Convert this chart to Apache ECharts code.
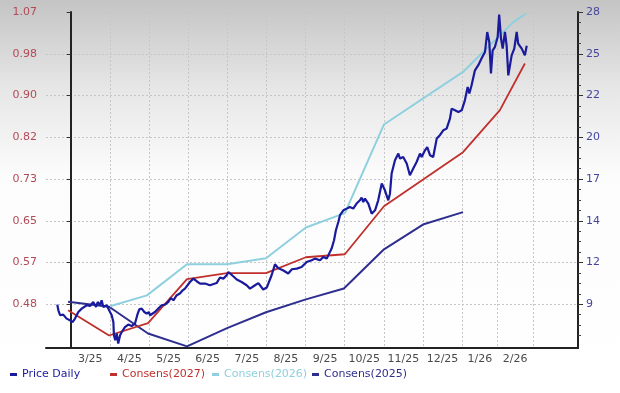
<!DOCTYPE html>
<html>
<head>
<meta charset="utf-8">
<script src="https://cdn.jsdelivr.net/npm/echarts@6/dist/echarts.min.js"></script>
<style>
html,body{margin:0;padding:0;}
#chart{width:620px;height:393px;background:linear-gradient(to bottom,#c4c4c4 0%,#e6e6e6 22%,#fcfcfc 45%,#ffffff 100%);}
</style>
</head>
<body>
<div id="chart"></div>
<script>
// x unit: approx. trading-day index, 0 = start of March 2025
const monthStarts = [0, 21, 42, 63, 84, 105, 126, 147, 168, 189, 210, 229, 248];
const monthLabels = ['3/25','4/25','5/25','6/25','7/25','8/25','9/25','10/25','11/25','12/25','1/26','2/26'];

const leftTickLabels = ['0.48','0.57','0.65','0.73','0.82','0.90','0.98','1.07'];
const leftTickRange = [0.48, 1.07];
const rightTickLabels = ['9','12','14','17','20','22','25','28'];
const rightTickRange = [9, 28];

const priceDaily = [
[-7.2,8.98],[-6.6,8.61],[-5.7,8.29],[-4.0,8.33],[-2.2,8.07],[-0.4,7.96],[1.1,7.85],[2.3,8.07],[4.1,8.50],[5.9,8.72],
[6.8,8.65],[8.6,8.94],[10.4,8.89],[12.1,9.15],[13.6,8.83],[14.5,9.15],[15.7,8.94],[16.6,9.26],[17.5,8.83],[19.3,8.94],
[21.1,8.50],[22.0,8.29],[22.9,7.85],[23.2,6.99],[23.9,6.66],[24.7,7.10],[25.5,6.45],[26.5,6.99],[27.4,7.20],[29.1,7.52],
[30.9,7.68],[32.7,7.59],[34.5,7.75],[35.7,8.29],[36.8,8.67],[38.1,8.72],[39.5,8.50],[40.8,8.39],[41.9,8.50],[42.6,8.29],
[43.5,8.39],[45.2,8.50],[47.0,8.72],[48.8,8.94],[50.6,8.98],[52.4,9.15],[53.7,9.41],[55.1,9.26],[56.9,9.59],[58.6,9.70],
[60.1,9.91],[61.3,10.02],[62.2,10.12],[64.0,10.45],[64.9,10.35],[65.8,10.67],[67.6,10.50],[69.4,10.35],[72.1,10.35],[74.7,10.24],
[78.3,10.38],[80.1,10.74],[81.9,10.67],[83.7,10.89],[84.6,11.10],[87.2,10.82],[89.1,10.61],[91.7,10.45],[94.4,10.24],[96.2,10.02],
[98.9,10.24],[100.7,10.38],[103.3,9.96],[105.2,10.09],[107.8,10.89],[109.6,11.60],[111.4,11.34],[113.9,11.21],[116.7,11.00],[118.7,11.28],
[121.3,11.32],[123.9,11.42],[126.6,11.75],[129.3,11.86],[131.1,11.97],[133.8,11.86],[135.5,12.07],[137.4,11.97],[138.2,12.18],[140.0,12.62],
[141.3,13.16],[142.3,13.81],[143.6,14.35],[144.5,14.79],[146.3,15.11],[148.1,15.22],[149.8,15.33],[151.6,15.22],[153.4,15.55],[155.2,15.76],
[156.1,15.94],[157.0,15.65],[157.9,15.87],[159.7,15.55],[161.5,14.89],[163.3,15.11],[165.0,15.76],[166.9,16.85],[168.6,16.41],[170.4,15.76],
[171.3,16.19],[172.2,17.50],[174.0,18.36],[175.8,18.80],[176.7,18.47],[178.4,18.57],[180.3,18.15],[182.0,17.39],[183.8,17.82],[185.6,18.25],
[187.4,18.80],[188.3,18.57],[190.1,19.01],[191.3,19.22],[192.8,18.69],[194.5,18.57],[196.4,19.77],[198.1,19.99],[199.9,20.31],[201.7,20.42],
[203.5,21.07],[204.4,21.72],[206.2,21.61],[208.0,21.50],[209.8,21.61],[211.5,22.26],[213.0,23.12],[213.9,22.70],[215.1,23.24],[216.9,24.21],
[218.7,24.54],[220.5,24.99],[222.3,25.40],[223.5,26.70],[224.6,26.05],[225.5,24.00],[226.4,25.51],[227.6,25.72],[229.1,26.37],[229.9,27.83],
[230.9,26.27],[231.8,25.62],[233.0,26.70],[233.9,25.83],[234.8,23.88],[236.6,25.18],[238.0,25.62],[239.3,26.70],[240.1,25.95],[242.0,25.62],
[242.8,25.72],[243.7,25.19],[244.7,25.81]
];

const consens2027 = [
[-1.4,0.468],[20.6,0.417],[41.5,0.442],[62.4,0.531],[83.9,0.543],[104.8,0.543],[126.2,0.575],[147.1,0.581],
[168.1,0.678],[210.5,0.787],[230.3,0.872],[243.7,0.966]
];
const consens2026 = [
[21.1,0.476],[40.9,0.498],[62.4,0.561],[83.9,0.561],[104.8,0.573],[126.2,0.635],[147.1,0.664],[168.1,0.843],
[210.5,0.949],[221.2,0.989],[237.3,1.049],[244.3,1.067]
];
const consens2025 = [
[-1.4,0.485],[20.6,0.475],[41.5,0.421],[62.4,0.395],[83.9,0.432],[104.8,0.464],[126.2,0.490],[146.6,0.512],
[168.1,0.591],[189.0,0.641],[210.5,0.666]
];

// ---- derived tick positions (layout only) ----
const monthMids = monthLabels.map((_, i) => (monthStarts[i] + monthStarts[i + 1]) / 2);
const n = leftTickLabels.length - 1;
const leftTicks = leftTickLabels.map((_, i) => leftTickRange[0] + i * (leftTickRange[1] - leftTickRange[0]) / n);
const rightStep = (rightTickRange[1] - rightTickRange[0]) / n;
const rightTicks = rightTickLabels.map((_, i) => rightTickRange[0] + i * rightStep);
const rightMinor = [];
for (let i = -1; i < n; i++) {
  for (let k = 1; k < 4; k++) rightMinor.push(rightTickRange[0] + i * rightStep + k * rightStep / 4);
}

const gridTop = 12, gridBottom = 45, plotH = 393 - gridTop - gridBottom;
const pxPerLeft = 292.3 / (leftTickRange[1] - leftTickRange[0]);
const pxPerRight = 292.3 / (rightTickRange[1] - rightTickRange[0]);
const leftMin = leftTickRange[1] - plotH / pxPerLeft;
const rightMin = rightTickRange[1] - plotH / pxPerRight;

function nearestIdx(arr, v) {
  let best = 0;
  for (let i = 1; i < arr.length; i++) if (Math.abs(arr[i] - v) < Math.abs(arr[best] - v)) best = i;
  return best;
}

const FONT = 'DejaVu Sans';
const C_PRICE = '#1a1a9c', C_27 = '#c0302c', C_26 = '#8fd0de', C_25 = '#2e2e8e';
const GRID_LINE = {color: '#c6c6c6', type: [2, 2], width: 1};

const chart = echarts.init(document.getElementById('chart'), null, {renderer: 'canvas'});
function legendItem(name, color, left) {
  return {
    data: [{name: name, textStyle: {color: color}}],
    left: left, top: 369, icon: 'rect', itemWidth: 7, itemHeight: 3, itemGap: 0, padding: 0,
    textStyle: {fontSize: 11, fontFamily: FONT, color: color, padding: [0, 0, 0, 0]}
  };
}
chart.setOption({
  backgroundColor: 'transparent',
  animation: false,
  textStyle: {fontFamily: FONT},
  grid: {left: 46, right: 42, top: gridTop, bottom: gridBottom, containLabel: false},
  legend: [
    legendItem('Price Daily', C_PRICE, 10),
    legendItem('Consens(2027)', C_27, 110),
    legendItem('Consens(2026)', C_26, 212),
    legendItem('Consens(2025)', C_25, 312)
  ],
  xAxis: {
    type: 'value', min: -13.25, max: 272.2,
    axisLine: {show: true, onZero: false, lineStyle: {color: '#222', width: 2}},
    axisTick: {show: false, customValues: monthStarts},
    splitLine: {show: true, lineStyle: GRID_LINE},
    axisLabel: {
      customValues: monthMids, margin: 6, color: '#4a4a4a', fontSize: 11, fontFamily: FONT,
      formatter: v => monthLabels[nearestIdx(monthMids, v)]
    }
  },
  yAxis: [
    {
      type: 'value', position: 'left', min: leftMin, max: leftTickRange[1],
      axisLine: {show: true, lineStyle: {color: '#222', width: 2}},
      axisTick: {show: true, length: 4, customValues: leftTicks, lineStyle: {color: '#333'}},
      splitLine: {show: true, lineStyle: GRID_LINE},
      axisLabel: {
        customValues: leftTicks, margin: 9, color: '#b24a56', fontSize: 11, fontFamily: FONT,
        formatter: v => leftTickLabels[nearestIdx(leftTicks, v)]
      }
    },
    {
      type: 'value', position: 'right', min: rightMin, max: rightTickRange[1],
      axisLine: {show: true, lineStyle: {color: '#222', width: 2}},
      axisTick: {show: true, length: 5, customValues: rightTicks, lineStyle: {color: '#333'}},
      splitLine: {show: false},
      axisLabel: {
        customValues: rightTicks, margin: 8, color: '#45459e', fontSize: 11, fontFamily: FONT,
        formatter: v => rightTickLabels[nearestIdx(rightTicks, v)]
      }
    },
    {
      type: 'value', position: 'right', min: rightMin, max: rightTickRange[1],
      axisLine: {show: false},
      axisTick: {show: true, length: 3, customValues: rightMinor, lineStyle: {color: '#444'}},
      splitLine: {show: false},
      axisLabel: {show: false}
    }
  ],
  series: [
    {name: 'Consens(2025)', type: 'line', yAxisIndex: 0, data: consens2025, showSymbol: false, symbol: 'none',
     lineStyle: {color: C_25, width: 2}, itemStyle: {color: C_25}},
    {name: 'Consens(2026)', type: 'line', yAxisIndex: 0, data: consens2026, showSymbol: false, symbol: 'none',
     lineStyle: {color: C_26, width: 2}, itemStyle: {color: C_26}},
    {name: 'Consens(2027)', type: 'line', yAxisIndex: 0, data: consens2027, showSymbol: false, symbol: 'none',
     lineStyle: {color: C_27, width: 1.8}, itemStyle: {color: C_27}},
    {name: 'Price Daily', type: 'line', yAxisIndex: 1, data: priceDaily, showSymbol: false, symbol: 'none',
     lineStyle: {color: C_PRICE, width: 2.2}, itemStyle: {color: C_PRICE}}
  ]
});
</script>
</body>
</html>
